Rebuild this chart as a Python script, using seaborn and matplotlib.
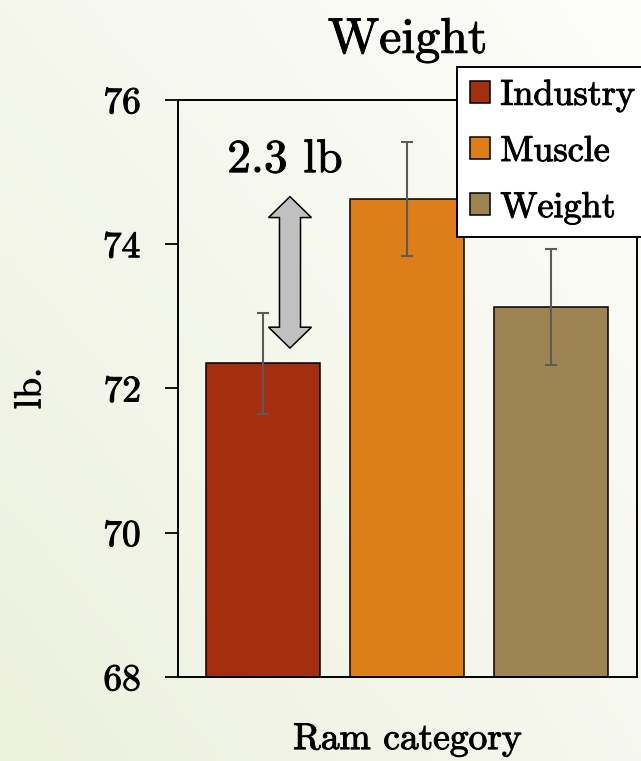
import numpy as np
import pandas as pd
import matplotlib
matplotlib.use("Agg")
import matplotlib.pyplot as plt
import matplotlib.patheffects as pe
import seaborn as sns
from matplotlib.patches import Polygon, Patch

# data
categories = ["Industry", "Muscle", "Weight"]
means = [72.35, 74.63, 73.13]
errors = [0.70, 0.79, 0.80]
colors = ["#a32f10", "#dd7e1b", "#9f8453"]
diff_label = "2.3 lb"

sns.set_theme(style="white")
plt.rcParams["font.family"] = ["cmr10", "DejaVu Serif"]
plt.rcParams["axes.formatter.use_mathtext"] = True
plt.rcParams["mathtext.fontset"] = "cm"
for key in ["text.color", "axes.labelcolor", "xtick.color", "ytick.color"]:
    plt.rcParams[key] = "black"

# slightly heavier strokes, the reference text is bolder than plain cmr10
thick = [pe.withStroke(linewidth=0.7, foreground="black")]

df = pd.DataFrame({"category": categories, "mean": means, "err": errors})

fig = plt.figure(figsize=(6.41, 7.61), dpi=100)

# pale gradient background (green-cream bottom-left to near white top-right)
bg = fig.add_axes([0, 0, 1, 1], zorder=-10)
c_tl = np.array([245, 247, 237]) / 255
c_tr = np.array([253, 253, 250]) / 255
c_bl = np.array([236, 241, 221]) / 255
c_br = np.array([246, 247, 238]) / 255
u = np.linspace(0, 1, 64)[None, :, None]
v = np.linspace(0, 1, 64)[:, None, None]
grad = (1 - v) * ((1 - u) * c_tl + u * c_tr) + v * ((1 - u) * c_bl + u * c_br)
bg.imshow(grad, aspect="auto", extent=[0, 1, 0, 1], interpolation="bilinear")
bg.axis("off")

ax = fig.add_axes([0.2777, 0.1104, 0.7161, 0.7582])
ax.set_facecolor("none")

sns.barplot(data=df, x="category", y="mean", hue="category", palette=colors,
            saturation=1, width=0.79, edgecolor="black", linewidth=1.1,
            legend=False, ax=ax)
xpos = np.arange(len(categories))
ax.errorbar(xpos, df["mean"], yerr=df["err"], fmt="none", ecolor="#5a5a5a",
            elinewidth=1.5, capsize=4.3, capthick=1.5, zorder=5)

ax.set_ylim(68, 76)
ax.set_xlim(-0.59, 2.597)
ax.set_yticks([68, 70, 72, 74, 76])
ax.set_xticks([])
ax.tick_params(axis="y", left=True, length=9.5, width=1.3, color="black",
               labelsize=27, pad=17)
for lab in ax.get_yticklabels():
    lab.set_path_effects(thick)
for s in ax.spines.values():
    s.set_visible(True)
    s.set_color("black")
    s.set_linewidth(1.4)

ax.set_xlabel("Ram category", fontsize=27, labelpad=33, path_effects=thick)
ax.set_ylabel("lb.", fontsize=27, labelpad=40, path_effects=thick)
ax.set_title("Weight", fontsize=36, pad=34, path_effects=thick)

# double-headed block arrow showing the difference
x0 = 0.1875
y_top, y_bot = 74.66, 72.56
sw, hw, hl = 0.073, 0.149, 0.29
pts = [(x0, y_top), (x0 + hw, y_top - hl), (x0 + sw, y_top - hl),
       (x0 + sw, y_bot + hl), (x0 + hw, y_bot + hl), (x0, y_bot),
       (x0 - hw, y_bot + hl), (x0 - sw, y_bot + hl), (x0 - sw, y_top - hl),
       (x0 - hw, y_top - hl)]
ax.add_patch(Polygon(pts, closed=True, facecolor="#c0c0c0", edgecolor="black",
                     linewidth=1.1, zorder=6))
ax.text(0.153, 75.0, diff_label, fontsize=34, ha="center", va="baseline",
        path_effects=thick)

handles = [Patch(facecolor=c, edgecolor="black", linewidth=1.1) for c in colors]
leg = fig.legend(handles, categories, loc="upper left",
                 bbox_to_anchor=(0.713, 0.912), fontsize=26, frameon=True,
                 fancybox=False, handlelength=0.55, handleheight=0.55,
                 handletextpad=0.3, labelspacing=0.68, borderpad=0.35,
                 borderaxespad=0)
leg.get_frame().set_edgecolor("black")
leg.get_frame().set_linewidth(1.4)
leg.get_frame().set_facecolor("white")
leg.get_frame().set_alpha(1)
for t in leg.get_texts():
    t.set_path_effects(thick)

fig.savefig("out.png", dpi=100)
